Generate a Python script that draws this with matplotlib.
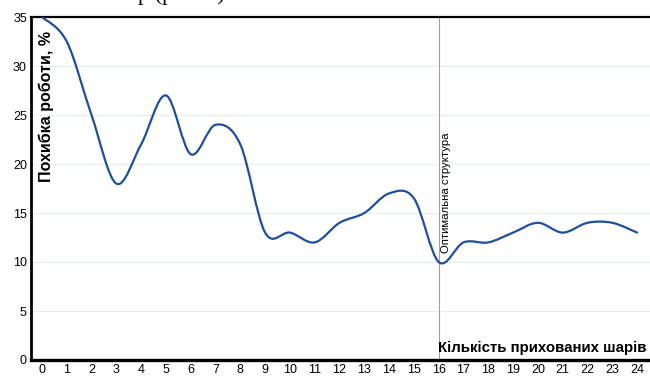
import numpy as np
import matplotlib
matplotlib.use("Agg")
import matplotlib.pyplot as plt
from matplotlib.path import Path
from matplotlib.patches import PathPatch

plt.rcParams['font.family'] = ['Liberation Sans', 'DejaVu Sans']

# hidden layers count vs error
layers = list(range(25))
error = [35, 32.5, 25, 18, 22, 27, 21, 24, 22, 13, 13, 12, 14, 15, 17, 16.5,
         10, 12, 12, 13, 14, 13, 14, 14, 13]
y_ticks = [0, 5, 10, 15, 20, 25, 30, 35]
best = 16

fig = plt.figure(figsize=(6.5, 3.79), dpi=100)
ax = fig.add_axes([31 / 650, 19 / 379, 1 - 31 / 650, 343 / 379])

# smooth line through the points (Catmull-Rom as cubic bezier, like Excel)
x = np.array(layers, dtype=float)
y = np.array(error, dtype=float)
verts = [(x[0], y[0])]
codes = [Path.MOVETO]
n = len(x)
for i in range(n - 1):
    i0 = max(i - 1, 0)
    i3 = min(i + 2, n - 1)
    c1 = (x[i] + (x[i + 1] - x[i0]) / 6, y[i] + (y[i + 1] - y[i0]) / 6)
    c2 = (x[i + 1] - (x[i3] - x[i]) / 6, y[i + 1] - (y[i3] - y[i]) / 6)
    verts += [c1, c2, (x[i + 1], y[i + 1])]
    codes += [Path.CURVE4] * 3
ax.add_patch(PathPatch(Path(verts, codes), fill=False, edgecolor='#1f4f9e',
                       lw=1.6, zorder=3, capstyle='round'))

for t in y_ticks[1:-1]:
    ax.axhline(t, color='#e6edf5', lw=0.8, zorder=1)
ax.axvline(best, color='#a0a0a0', lw=0.8, zorder=2)

ax.set_xlim(-0.44, 24.52)
ax.set_ylim(0, 35)
ax.set_xticks(layers)
ax.set_yticks(y_ticks)
ax.tick_params(length=0, labelsize=9, pad=3)
ax.tick_params(axis='y', pad=3)

for s in ['left', 'bottom', 'top']:
    ax.spines[s].set_color('black')
ax.spines['left'].set_linewidth(2)
ax.spines['bottom'].set_linewidth(2.4)
ax.spines['top'].set_linewidth(1.6)
ax.spines['right'].set_visible(False)

ax.text(0.012, 0.96, 'Похибка роботи, %', transform=ax.transAxes, rotation=90,
        ha='left', va='top', fontsize=11.5, fontweight='bold')
ax.text(0.995, 0.015, 'Кількість прихованих шарів', transform=ax.transAxes,
        ha='right', va='bottom', fontsize=10.8, fontweight='bold')
ax.text(best + 0.1, 10.9, 'Оптимальна структура', rotation=90,
        ha='left', va='bottom', fontsize=8.2)

# clipped caption text from the page above (only descenders show)
fig.text(138 / 650, 1.0, 'р (рис. 3)', family='Liberation Serif',
         fontsize=16, ha='left', va='baseline')

fig.savefig('out.png', dpi=100)
